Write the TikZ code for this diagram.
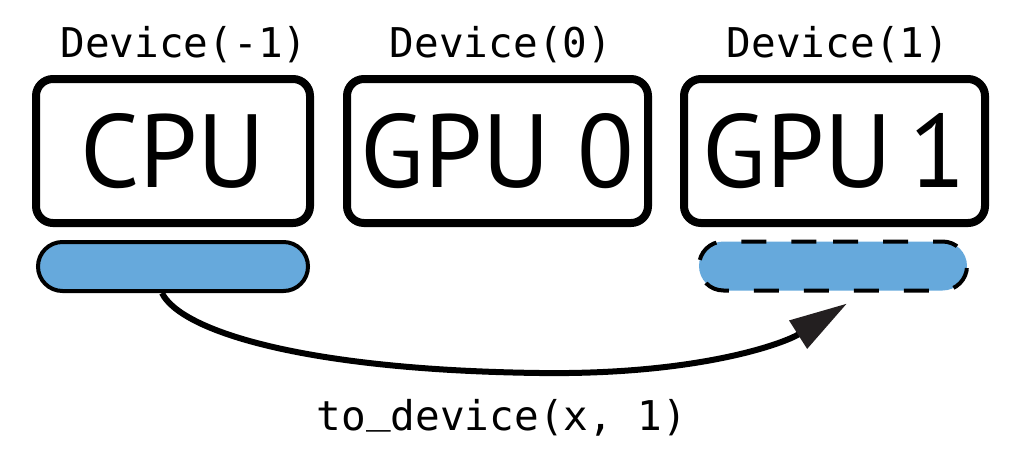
\documentclass[tikz,border=0pt]{standalone}
\usepackage{fontspec}
\setmainfont{PT Sans}
\newfontfamily\codefont{DejaVu Sans Mono}
\usetikzlibrary{shapes.misc,arrows.meta,calc}
\definecolor{barblue}{RGB}{102,169,220}
\definecolor{tipgray}{RGB}{35,31,32}
\tikzset{
  devbox/.style={draw=black, line width=8pt, rounded corners=17pt, minimum width=#1, minimum height=144pt, inner sep=0pt,
    font=\fontsize{104}{104}\selectfont},
  devlabel/.style={anchor=base, inner sep=0pt, font=\codefont\fontsize{41}{41}\selectfont},
  databar/.style={rounded rectangle, fill=barblue, line width=4pt, minimum height=49pt, inner sep=0pt},
  moveline/.style={line width=6pt, draw=black, -{Triangle[length=58pt,width=32pt,color=tipgray]}}
}
\begin{document}
\begin{tikzpicture}[x=1pt,y=-1pt]
\useasboundingbox (0,0) rectangle (1014,456);
% device boxes
\node[devbox=274pt] (cpu)  at (173,151)   {CPU};
\node[devbox=301pt] (gpu0) at (497.5,151) {GPU 0};
\node[devbox=301pt] (gpu1) at (834.5,151) {GPU\,1};
% device labels
\node[devlabel] (lcpu)  at (184,57) {Device(-1)};
\node[devlabel] (lgpu0) at (501,57) {Device(0)};
\node[devlabel] (lgpu1) at (838,57) {Device(1)};
% data bars
\node[databar, draw=black, minimum width=270pt] (xcpu) at (173,266.5) {};
\node[databar, draw=black, dash pattern=on 25pt off 25pt, minimum width=268pt] (xgpu) at (833,266) {};
% transfer arrow
\coordinate (from) at ($(xcpu.south)+(-11,0)$);
\coordinate (to) at ($(xgpu.south)+(14,11)$);
\draw[moveline] (from) .. controls (180,330) and (300,370) .. (540,373)
  .. controls (700,375) and (785,343) .. (to);
\node[devlabel] (call) at (502,430) {to\raisebox{8pt}{\char95}device(x, 1)};
\end{tikzpicture}
\end{document}
